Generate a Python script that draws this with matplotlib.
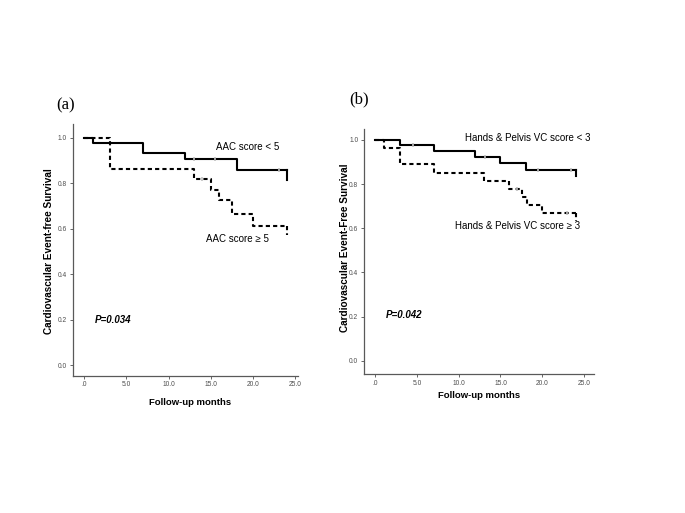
import numpy as np
import matplotlib.pyplot as plt

plt.rcParams['font.family'] = ['Liberation Sans', 'DejaVu Sans']

# panel (a): AAC score
a_low_t = [0, 1, 7, 12, 18.1, 24]
a_low_s = [1.0, 0.977, 0.932, 0.909, 0.861, 0.861]
a_low_end = 0.815
a_low_cens_t = [13.0, 15.5, 23.1]
a_low_cens_s = [0.909, 0.909, 0.861]

a_high_t = [0, 3, 13, 15, 16, 17.5, 20, 24]
a_high_s = [1.0, 0.864, 0.818, 0.773, 0.727, 0.667, 0.614, 0.614]
a_high_end = 0.574
a_high_cens_t = [14.0]
a_high_cens_s = [0.818]

# panel (b): Hands & Pelvis VC score
b_low_t = [0, 3, 7, 12, 15, 18, 24]
b_low_s = [1.0, 0.976, 0.951, 0.924, 0.897, 0.865, 0.865]
b_low_end = 0.838
b_low_cens_t = [4.5, 13.1, 19.5, 23.5]
b_low_cens_s = [0.976, 0.924, 0.865, 0.865]

b_high_t = [0, 1, 3, 7, 13, 16, 17.6, 18.2, 20, 24]
b_high_s = [1.0, 0.963, 0.889, 0.852, 0.815, 0.778, 0.741, 0.704, 0.667, 0.667]
b_high_end = 0.635
b_high_cens_t = [17.0, 23.0]
b_high_cens_s = [0.778, 0.667]

xticks = [0, 5, 10, 15, 20, 25]
xticklabels = ['.0', '5.0', '10.0', '15.0', '20.0', '25.0']
yticks = [0.0, 0.2, 0.4, 0.6, 0.8, 1.0]
yticklabels = ['0.0', '0.2', '0.4', '0.6', '0.8', '1.0']


def km(ax, t, s, end, ct, cs, ls):
    ax.step(t, s, where='post', color='black', lw=1.5, linestyle=ls)
    ax.plot([t[-1], t[-1]], [s[-1], end], color='black', lw=1.5, linestyle=ls)
    ax.plot(ct, cs, linestyle='none', marker='|', ms=3, mew=1.2, color='0.75')


def setup(ax, xlim, ylim):
    ax.set_xlim(xlim)
    ax.set_ylim(ylim)
    ax.set_xticks(xticks)
    ax.set_xticklabels(xticklabels)
    ax.set_yticks(yticks)
    ax.set_yticklabels(yticklabels)
    ax.tick_params(labelsize=4.8, length=2.5, width=0.6, colors='0.3', pad=1.5)
    for side in ['top', 'right']:
        ax.spines[side].set_visible(False)
    for side in ['left', 'bottom']:
        ax.spines[side].set_color('0.35')
        ax.spines[side].set_linewidth(0.9)


fig = plt.figure(figsize=(6.85, 5.13), dpi=100)

axa = fig.add_axes([0.106, 0.2676, 0.329, 0.490])
km(axa, a_low_t, a_low_s, a_low_end, a_low_cens_t, a_low_cens_s, '-')
km(axa, a_high_t, a_high_s, a_high_end, a_high_cens_t, a_high_cens_s, (0, (2, 1.5)))
setup(axa, (-1.38, 25.35), (-0.047, 1.06))
axa.text(15.6, 0.96, 'AAC score < 5', fontsize=7, va='center', ha='left')
axa.text(14.4, 0.553, 'AAC score \u2265 5', fontsize=7, va='center', ha='left')
axa.text(1.3, 0.2, 'P=0.034', fontsize=7, fontweight='bold', style='italic', va='center')

axb = fig.add_axes([0.531, 0.271, 0.336, 0.478])
km(axb, b_low_t, b_low_s, b_low_end, b_low_cens_t, b_low_cens_s, '-')
km(axb, b_high_t, b_high_s, b_high_end, b_high_cens_t, b_high_cens_s, (0, (2, 1.5)))
setup(axb, (-1.4, 26.2), (-0.059, 1.05))
axb.text(10.8, 1.006, 'Hands & Pelvis VC score < 3', fontsize=7, va='center', ha='left')
axb.text(9.6, 0.608, 'Hands & Pelvis VC score \u2265 3', fontsize=7, va='center', ha='left')
axb.text(1.3, 0.207, 'P=0.042', fontsize=7, fontweight='bold', style='italic', va='center')

# panel letters and axis titles
fig.text(56.7 / 685, 1 - 105 / 513, '(a)', family='Liberation Serif', fontsize=12, va='center')
fig.text(349 / 685, 1 - 99 / 513, '(b)', family='Liberation Serif', fontsize=12, va='center')
fig.text(49.3 / 685, 1 - 250.8 / 513, 'Cardiovascular Event-free Survival', rotation=90,
         fontsize=7.2, fontweight='bold', ha='center', va='center')
fig.text(345 / 685, 1 - 248 / 513, 'Cardiovascular Event-Free Survival', rotation=90,
         fontsize=7.2, fontweight='bold', ha='center', va='center')
fig.text(189.7 / 685, 1 - 402.7 / 513, 'Follow-up months', fontsize=6.8, fontweight='bold',
         ha='center', va='center')
fig.text(479 / 685, 1 - 396 / 513, 'Follow-up months', fontsize=6.8, fontweight='bold',
         ha='center', va='center')

fig.savefig('out.png', dpi=100)
